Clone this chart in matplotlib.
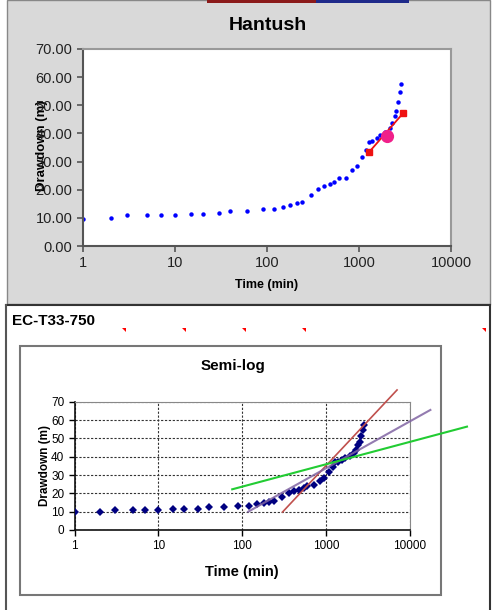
import matplotlib
matplotlib.use("Agg")
import matplotlib.pyplot as plt
from matplotlib.patches import Rectangle, Polygon

plt.rcParams['font.family'] = ['Liberation Sans', 'DejaVu Sans']

# pumping test data (time in min, drawdown in m)
time_min = [1, 2, 3, 5, 7, 10, 15, 20, 30, 40, 60, 90, 120, 150, 180, 210, 240,
            300, 360, 420, 480, 540, 600, 720, 840, 960, 1080, 1200, 1290, 1400,
            1560, 1700, 1930, 2180, 2280, 2440, 2520, 2650, 2760, 2880]
drawdown = [9.6, 9.8, 11.0, 11.0, 11.0, 11.0, 11.4, 11.4, 11.7, 12.3, 12.5, 13.0,
            13.3, 14.0, 14.6, 15.4, 15.6, 18.1, 20.1, 21.4, 21.9, 22.9, 24.0, 24.3,
            27.0, 28.5, 31.7, 34.1, 37.1, 37.3, 38.4, 39.5, 40.6, 41.8, 43.6, 46.2,
            48.0, 51.3, 54.8, 57.4]

# Hantush fit segment and match point
hantush_t = [1290, 3000]
hantush_s = [33.4, 47.1]
match_t = [2000]
match_s = [39.1]

# semi-log straight lines
red_t = [303, 7060]
red_s = [9.8, 76.4]
purple_t = [118, 17650]
purple_s = [10.0, 65.5]
green_t = [76, 48300]
green_s = [22.2, 56.4]

top_yticks = [0, 10, 20, 30, 40, 50, 60, 70]
bot_yticks = [0, 10, 20, 30, 40, 50, 60, 70]
xticks = [1, 10, 100, 1000, 10000]

W, H = 493, 610
fig = plt.figure(figsize=(W / 100, H / 100), dpi=100)
fig.patch.set_facecolor('white')


def box(x0, y0, x1, y1):
    return [x0 / W, 1 - y1 / H, (x1 - x0) / W, (y1 - y0) / H]


# background decorations in pixel coords
bg = fig.add_axes([0, 0, 1, 1])
bg.set_xlim(0, W)
bg.set_ylim(H, 0)
bg.axis('off')
bg.add_patch(Rectangle((7, 0), 483, 304, facecolor='#d9d9d9', edgecolor='#888888', lw=1))
bg.add_patch(Rectangle((207, 0), 109, 2.5, facecolor='#8b1a1a', edgecolor='none'))
bg.add_patch(Rectangle((316, 0), 93, 2.5, facecolor='#1f2a8a', edgecolor='none'))
bg.plot([6, 490], [305, 305], color='#333333', lw=1.5)
bg.plot([6, 6], [305, 610], color='#555555', lw=1.5)
bg.plot([489.5, 489.5], [305, 610], color='#333333', lw=1.5)
bg.add_patch(Rectangle((20, 346), 421, 249, facecolor='white', edgecolor='#777777', lw=1.5))
for tx in [125, 185, 245, 305, 485]:
    bg.add_patch(Polygon([[tx - 3, 328], [tx + 1, 328], [tx + 1, 332]], closed=True,
                         facecolor='red', edgecolor='none'))
bg.text(268, 26, 'Hantush', fontsize=14, fontweight='bold', ha='center', va='center')
bg.text(12, 321, 'EC-T33-750', fontsize=11, fontweight='bold', ha='left', va='center')
bg.text(233, 366, 'Semi-log', fontsize=11, fontweight='bold', ha='center', va='center')

# top chart: Hantush
ax1 = fig.add_axes(box(83, 49, 451, 246))
ax1.set_facecolor('white')
ax1.plot(time_min, drawdown, 'o', color='#0000ff', markersize=3.2, markeredgewidth=0)
ax1.plot(hantush_t, hantush_s, '-s', color='#ee1111', markersize=4, lw=1.3)
ax1.plot(match_t, match_s, 'o', color='#f0208a', markersize=9.5, markeredgewidth=0)
ax1.set_xscale('log')
ax1.set_xlim(1, 10000)
ax1.set_ylim(0, 70)
ax1.set_xticks(xticks)
ax1.set_xticklabels([str(v) for v in xticks])
ax1.minorticks_off()
ax1.set_yticks(top_yticks)
ax1.set_yticklabels(['%.2f' % v for v in top_yticks])
ax1.tick_params(labelsize=10.5, labelcolor='#222222', direction='out', length=4,
                color='#555555', width=1.2)
for s in ['top', 'right']:
    ax1.spines[s].set_color('#999999')
    ax1.spines[s].set_linewidth(1.5)
for s in ['left', 'bottom']:
    ax1.spines[s].set_color('#555555')
    ax1.spines[s].set_linewidth(1.5)
ax1.set_xlabel('Time (min)', fontsize=9, fontweight='bold', labelpad=6)
bg.text(42, 146, 'Drawdown (m)', fontsize=9.5, fontweight='bold', rotation=90,
        ha='center', va='center')

# bottom chart: semi-log
ax2 = fig.add_axes(box(74.7, 401.7, 409.7, 530))
ax2.set_facecolor('white')
ax2.plot(time_min, drawdown, 'D', color='#000080', markersize=4.5, markeredgewidth=0, zorder=3)
ax2.plot(red_t, red_s, color='#c0504d', lw=1.2, clip_on=False, zorder=4)
ax2.plot(purple_t, purple_s, color='#8064a2', lw=1.5, alpha=0.85, clip_on=False, zorder=4)
ax2.plot(green_t, green_s, color='#22cc33', lw=1.5, clip_on=False, zorder=4)
ax2.set_xscale('log')
ax2.set_xlim(1, 10000)
ax2.set_ylim(0, 70)
ax2.set_xticks(xticks)
ax2.set_xticklabels([str(v) for v in xticks])
ax2.minorticks_off()
ax2.set_yticks(bot_yticks)
ax2.grid(True, which='major', color='#333333', linestyle=(0, (2, 1.5)), lw=0.8)
ax2.tick_params(labelsize=8.5, direction='out', length=4, width=1)
for s in ['top', 'right']:
    ax2.spines[s].set_color('#888888')
for s in ['left', 'bottom']:
    ax2.spines[s].set_color('#111111')
    ax2.spines[s].set_linewidth(1.2)
ax2.set_xlabel('Time (min)', fontsize=10.5, fontweight='bold', labelpad=9)
bg.text(45, 466, 'Drawdown (m)', fontsize=8.5, fontweight='bold', rotation=90,
        ha='center', va='center')

fig.savefig('out.png', dpi=100)
